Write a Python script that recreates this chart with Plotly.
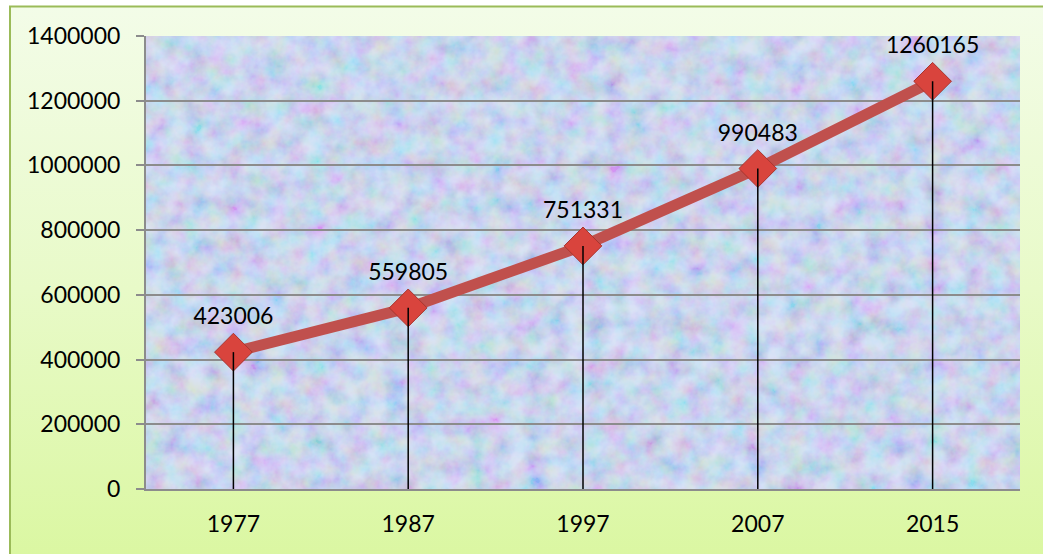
import base64
import plotly.graph_objects as go

years = ["1977", "1987", "1997", "2007", "2015"]
population = [423006, 559805, 751331, 990483, 1260165]
y_ticks = [0, 200000, 400000, 600000, 800000, 1000000, 1200000, 1400000]

W, H = 1043, 554
ml, mr, mt, mb = 146, 23, 36, 65
pw, ph = W - ml - mr, H - mt - mb

def svg_uri(svg):
    return "data:image/svg+xml;base64," + base64.b64encode(svg.encode()).decode()

outer_svg = f'''<svg xmlns="http://www.w3.org/2000/svg" width="{W}" height="{H}" viewBox="0 0 {W} {H}">
<defs><linearGradient id="g" x1="0" y1="0" x2="0" y2="1">
<stop offset="0" stop-color="#f3fce8"/><stop offset="0.5" stop-color="#e8fac8"/><stop offset="1" stop-color="#daf7a0"/>
</linearGradient></defs>
<rect x="0" y="0" width="{W}" height="{H}" fill="#ffffff"/>
<rect x="10" y="6.5" width="{W+10}" height="{H+10}" fill="url(#g)" stroke="#9bbb59" stroke-width="2"/>
</svg>'''

inner_svg = f'''<svg xmlns="http://www.w3.org/2000/svg" width="{pw}" height="{ph}" viewBox="0 0 {pw} {ph}">
<defs><filter id="n" x="0" y="0" width="100%" height="100%">
<feTurbulence type="fractalNoise" baseFrequency="0.05" numOctaves="4" seed="11"/>
<feColorMatrix type="matrix" values="1.6 0 0 0 -0.2  0 1.6 0 0 -0.15  0 0 1.2 0 0.15  0 0 0 0 1"/>
</filter></defs>
<rect width="{pw}" height="{ph}" fill="#c9d6f3"/>
<rect width="{pw}" height="{ph}" filter="url(#n)" opacity="0.3"/>
</svg>'''

font_family = "Lato, 'Open Sans', sans-serif"

fig = go.Figure()
fig.add_trace(go.Scatter(
    x=years, y=population, mode="lines+markers",
    line=dict(color="#c0504d", width=11),
    marker=dict(symbol="diamond", size=29, color="#d9443d",
                line=dict(color="#a8352f", width=1)),
    hoverinfo="skip", showlegend=False, cliponaxis=False,
))
fig.add_trace(go.Scatter(
    x=years, y=population, mode="markers+text",
    text=[str(v) for v in population], textposition="top center",
    textfont=dict(family=font_family, size=23, color="#000000"),
    marker=dict(size=34, opacity=0),
    error_y=dict(type="data", symmetric=False, array=[0] * len(population),
                 arrayminus=population, color="#000000", thickness=1.5, width=0),
    hoverinfo="skip", showlegend=False, cliponaxis=False,
))

fig.update_layout(
    width=W, height=H,
    margin=dict(l=ml, r=mr, t=mt, b=mb),
    paper_bgcolor="#ffffff",
    plot_bgcolor="#c9d6f3",
    font=dict(family=font_family, size=23, color="#000000"),
    images=[
        dict(source=svg_uri(outer_svg), xref="paper", yref="paper",
             x=-ml / pw, y=1 + mt / ph, sizex=W / pw, sizey=H / ph,
             xanchor="left", yanchor="top", sizing="stretch", layer="below"),
        dict(source=svg_uri(inner_svg), xref="paper", yref="paper",
             x=0, y=1, sizex=1, sizey=1,
             xanchor="left", yanchor="top", sizing="stretch", layer="below"),
    ],
    xaxis=dict(type="category", range=[-0.5, len(years) - 0.5],
               showgrid=False, showline=True, linecolor="#8c8c8c", linewidth=2,
               ticks="", ticklabelstandoff=13,
               tickfont=dict(family=font_family, size=23)),
    yaxis=dict(range=[0, 1400000], tickvals=y_ticks,
               ticktext=[str(v) for v in y_ticks],
               showgrid=True, gridcolor="#8c8c8c", gridwidth=1.5,
               zeroline=False, showline=True, linecolor="#8c8c8c", linewidth=2,
               ticks="outside", ticklen=8, tickcolor="#8c8c8c", tickwidth=1.5,
               ticklabelstandoff=11,
               tickfont=dict(family=font_family, size=23)),
)

fig.write_html("out.html", config={"displayModeBar": False},
               post_script="document.body.style.margin='0';document.body.style.overflow='hidden';")
